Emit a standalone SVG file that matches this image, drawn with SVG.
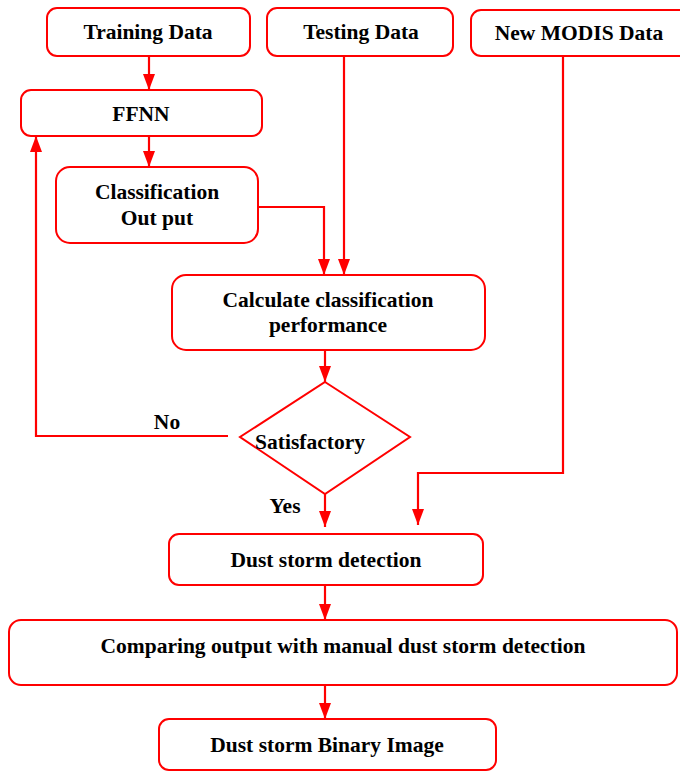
<svg xmlns="http://www.w3.org/2000/svg" width="680" height="772" viewBox="0 0 680 772">
<style>
.box{fill:#fff;stroke:#ff0000;stroke-width:2}
.ln{fill:none;stroke:#ff0000;stroke-width:2.2}
.t{font-family:"Liberation Serif","Times New Roman",serif;font-weight:bold;font-size:21.5px;fill:#000;text-anchor:middle}
</style>
<defs>
<marker id="ahL" viewBox="0 0 16 12" refX="16" refY="6" markerWidth="16" markerHeight="12" markerUnits="userSpaceOnUse" orient="auto">
<path d="M0,0 L16,6 L0,12 Z" fill="#ff0000"/>
</marker>
</defs>
<g id="connectors">
<path class="ln" d="M149,56 V90" marker-end="url(#ahL)"/>
<path class="ln" d="M149,136 V167" marker-end="url(#ahL)"/>
<path class="ln" d="M258,207 H324 V275" marker-end="url(#ahL)"/>
<path class="ln" d="M344,56 V275" marker-end="url(#ahL)"/>
<path class="ln" d="M325,350 V382" marker-end="url(#ahL)"/>
<path class="ln" d="M228,436 H36 V136" marker-end="url(#ahL)"/>
<path class="ln" d="M325,494 V527" marker-end="url(#ahL)"/>
<path class="ln" d="M563,56 V473 H418 V525" marker-end="url(#ahL)"/>
<path class="ln" d="M325,585 V620" marker-end="url(#ahL)"/>
<path class="ln" d="M325,685 V719" marker-end="url(#ahL)"/>
</g>
<g id="training"><rect class="box" x="47" y="8" width="203" height="48" rx="10"/><text class="t" x="148" y="39">Training Data</text></g>
<g id="testing"><rect class="box" x="267" y="8" width="186" height="48" rx="10"/><text class="t" x="361" y="39">Testing Data</text></g>
<g id="modis"><rect class="box" x="471" y="10" width="220" height="46" rx="10"/><text class="t" x="579" y="40">New MODIS Data</text></g>
<g id="ffnn"><rect class="box" x="21" y="90" width="241" height="46" rx="10"/><text class="t" x="141" y="121">FFNN</text></g>
<g id="classout"><rect class="box" x="56" y="167" width="202" height="76" rx="14"/><text class="t" x="157" y="199">Classification</text><text class="t" x="157" y="225">Out put</text></g>
<g id="calc"><rect class="box" x="172" y="275" width="313" height="75" rx="14"/><text class="t" x="328" y="307">Calculate classification</text><text class="t" x="328" y="332">performance</text></g>
<g id="satisfactory"><path class="box" d="M325,382 L410,437 L325,494 L240,437 Z"/><text class="t" x="310" y="449">Satisfactory</text></g>
<text class="t" x="167" y="429">No</text>
<text class="t" x="285" y="513">Yes</text>
<g id="detection"><rect class="box" x="169" y="534" width="314" height="51" rx="10"/><text class="t" x="326" y="567">Dust storm detection</text></g>
<g id="comparing"><rect class="box" x="9" y="620" width="668" height="65" rx="12"/><text class="t" x="343" y="653">Comparing output with manual dust storm detection</text></g>
<g id="binary"><rect class="box" x="159" y="719" width="337" height="51" rx="10"/><text class="t" x="327" y="752">Dust storm Binary Image</text></g>
</svg>
